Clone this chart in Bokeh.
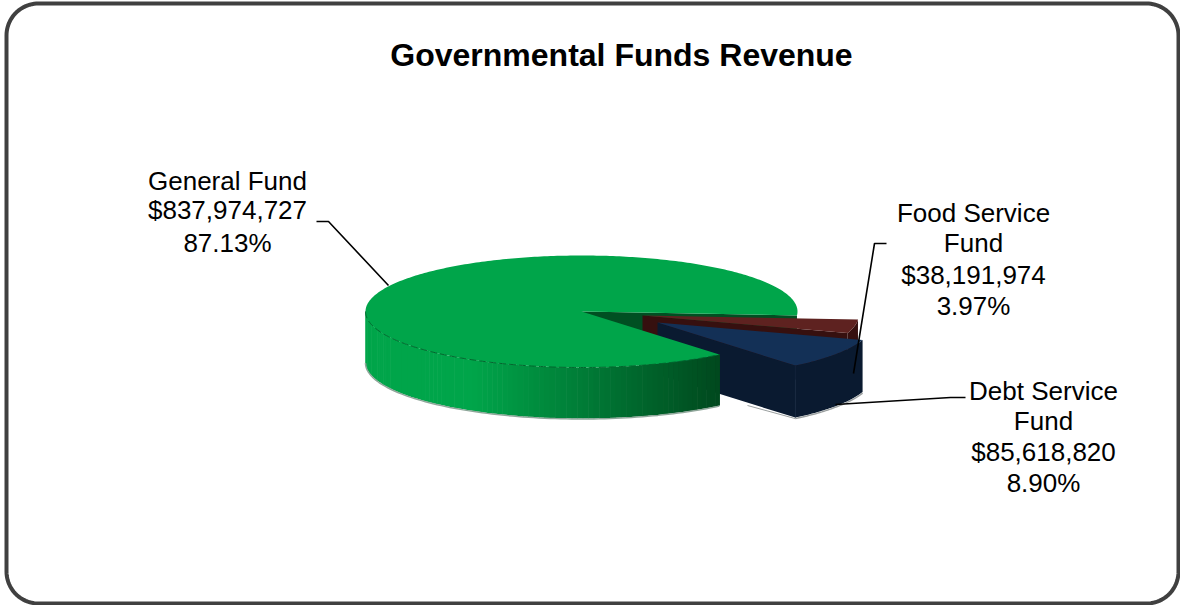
import numpy as np
from bokeh.core.properties import value
from bokeh.embed import file_html
from bokeh.models import Range1d
from bokeh.plotting import figure
from bokeh.resources import INLINE

# Revenue by fund
funds = ["General Fund", "Food Service Fund", "Debt Service Fund"]
amounts = [837974727, 38191974, 85618820]
amount_labels = ["$837,974,727", "$38,191,974", "$85,618,820"]
percent_labels = ["87.13%", "3.97%", "8.90%"]
chart_title = "Governmental Funds Revenue"

WIDTH, HEIGHT = 1180, 605
FONT = value("Liberation Sans")
CX, CY = 581, 311          # centre of the main disc
RX, RY = 216, 56           # ellipse radii of the tilted disc
DEPTH = 51                 # height of the extruded side
START_DEG = -4             # where the general fund's clockwise end sits
LABEL_SIZE = "26px"


def rim(t, cx=CX, cy=CY):
    """Screen position of the rim at parametric angles t (degrees)."""
    r = np.radians(t)
    return cx + RX * np.cos(r), cy - RY * np.sin(r)


def arc(t0, t1, cx=CX, cy=CY, n=120):
    return rim(np.linspace(t0, t1, n), cx, cy)


p = figure(width=WIDTH, height=HEIGHT, output_backend="svg", toolbar_location=None,
           x_range=Range1d(0, WIDTH), y_range=Range1d(HEIGHT, 0),
           min_border=0, outline_line_color=None, background_fill_color="white")
p.xaxis.visible = False
p.yaxis.visible = False
p.grid.visible = False

# Sweep of each slice, worked out from the amounts
total = sum(amounts)
sweeps = [a / total * 360 for a in amounts]
food_end = START_DEG - sweeps[1]
debt_end = food_end - sweeps[2]
general_end = START_DEG + sweeps[0]

# Cut face of the general fund, seen through the gap left by the pulled-out slices
ex, ey = rim(np.array([START_DEG]))
p.patch([CX, ex[0], ex[0], CX], [CY, ey[0], ey[0] + DEPTH, CY + DEPTH],
        fill_color="#004f22", line_color=None)

# Food service slice, pulled out to the right
fx, fy = 642, 315
x0, y0 = rim(np.array([food_end]), fx, fy)
p.patch([fx, x0[0], x0[0], fx], [fy, y0[0], y0[0] + DEPTH, fy + DEPTH],
        fill_color="#36100f", line_color=None)
ax, ay = arc(START_DEG, food_end, fx, fy, 30)
p.patch(np.r_[ax, ax[::-1]], np.r_[ay, ay[::-1] + DEPTH], fill_color="#36100f", line_color=None)
p.patch(np.r_[fx, ax], np.r_[fy, ay], fill_color="#5e2220", line_color=None)

# Debt service slice, pulled out further
dx, dy = 657, 322
x1, y1 = rim(np.array([debt_end]), dx, dy)
p.patch([dx, x1[0], x1[0], dx], [dy, y1[0], y1[0] + DEPTH + 1, dy + DEPTH + 1],
        fill_color="#0a1a30", line_color=None)
ax, ay = arc(food_end, debt_end, dx, dy, 40)
p.patch(np.r_[ax, ax[::-1]], np.r_[ay, ay[::-1] + DEPTH + 1], fill_color="#0a1a30", line_color=None)
p.patch(np.r_[dx, ax], np.r_[dy, ay], fill_color="#133056", line_color=None)
p.line([x1[0], x1[0]], [y1[0], y1[0] + DEPTH + 1], line_color="#12233c", line_width=1)
p.line(ax, ay + DEPTH + 2, line_color="#9a9f9f", line_width=1.5)
p.line([dx + 90, x1[0]], [dy + DEPTH + 32, y1[0] + DEPTH + 2], line_color="#9a9f9f", line_width=1)

# Side wall of the general fund, shaded from bright on the left to dark on the right
edges = np.linspace(180, general_end, 90)
sx, sy = rim(edges)
xs, ys, colors = [], [], []
bright = np.array([0, 165, 74])
dark = np.array([0, 72, 30])
for i in range(len(edges) - 1):
    xs.append([sx[i], sx[i + 1] + 0.6, sx[i + 1] + 0.6, sx[i]])
    ys.append([sy[i], sy[i + 1], sy[i + 1] + DEPTH, sy[i] + DEPTH])
    f = np.clip((sx[i] - 470) / (sx[-1] - 470), 0, 1)
    colors.append("#%02x%02x%02x" % tuple(int(c) for c in bright + (dark - bright) * f))
p.patches(xs, ys, fill_color=colors, line_color=None)
p.line(sx, sy + DEPTH + 0.5, line_color="#8fa69a", line_width=1.5)

# Top of the general fund
tx, ty = arc(START_DEG, general_end, n=360)
p.patch(np.r_[CX, tx], np.r_[CY, ty], fill_color="#00a54a", line_color=None)
hx, hy = arc(180, general_end, n=160)
p.line(hx, hy, line_color="#00672d", line_width=1, line_dash="7 3")

# Leader lines
p.line([316, 328, 388], [221, 221, 285], line_color="black", line_width=1.6)
p.line([886, 874, 853], [243, 243, 373], line_color="black", line_width=1.6)
p.line([965, 950, 835], [397, 397, 404], line_color="black", line_width=1.6)

# Title and labels
p.text([621], [54], text=[chart_title], text_font=FONT, text_font_size="32px",
       text_font_style="bold", text_align="center", text_baseline="middle", text_color="black")
label_lines = [
    (227, [180, 209, 242], [funds[0], amount_labels[0], percent_labels[0]]),
    (973, [212, 242, 274, 305], ["Food Service", "Fund", amount_labels[1], percent_labels[1]]),
    (1043, [390, 420, 451, 482], ["Debt Service", "Fund", amount_labels[2], percent_labels[2]]),
]
for lx, lys, lines in label_lines:
    p.text([lx] * len(lines), lys, text=lines, text_font=FONT, text_font_size=LABEL_SIZE,
           text_align="center", text_baseline="middle", text_color="black")

# Rounded frame around the whole chart
L, T, R, B, C = 6, 3, 1178, 603, 32
a = np.linspace(0, 90, 24)
ca, sa = C * np.cos(np.radians(a)), C * np.sin(np.radians(a))
frame_x = np.r_[L + C - ca, R - C + sa, R - C + ca, L + C - sa, L]
frame_y = np.r_[T + C - sa, T + C - ca, B - C + sa, B - C + ca, T + C]
p.line(frame_x, frame_y, line_color="#404040", line_width=4)

open("out.html", "w").write(file_html(p, INLINE))
